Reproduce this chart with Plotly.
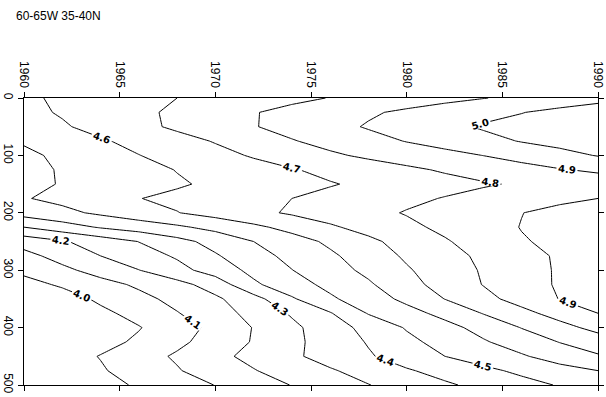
import plotly.graph_objects as go

years = [1960, 1962, 1964, 1966, 1968, 1970, 1972, 1974, 1976, 1978, 1980, 1982, 1984, 1986, 1988, 1990]
depths = [0, 25, 50, 75, 100, 125, 150, 175, 200, 225, 250, 275, 300, 325, 350, 375, 400, 425, 450, 475, 500]

d000 = [4.585, 4.614, 4.643, 4.672, 4.700, 4.726, 4.752, 4.778, 4.803, 4.826, 4.850, 4.875, 4.897, 4.920, 4.945, 4.970]
d025 = [4.574, 4.609, 4.645, 4.681, 4.717, 4.756, 4.795, 4.827, 4.857, 4.888, 4.917, 4.944, 4.970, 4.997, 5.025, 5.050]
d050 = [4.546, 4.589, 4.633, 4.675, 4.716, 4.755, 4.795, 4.833, 4.871, 4.908, 4.943, 4.977, 5.010, 5.030, 5.050, 5.060]
d075 = [4.510, 4.548, 4.589, 4.628, 4.667, 4.706, 4.751, 4.794, 4.831, 4.867, 4.904, 4.934, 4.971, 5.005, 5.030, 5.040]
d100 = [4.480, 4.519, 4.559, 4.598, 4.635, 4.671, 4.709, 4.747, 4.785, 4.817, 4.845, 4.873, 4.901, 4.935, 4.970, 5.005]
d125 = [4.475, 4.507, 4.539, 4.571, 4.603, 4.633, 4.664, 4.694, 4.723, 4.752, 4.782, 4.811, 4.838, 4.865, 4.894, 4.915]
d150 = [4.477, 4.505, 4.534, 4.562, 4.590, 4.616, 4.643, 4.668, 4.694, 4.718, 4.743, 4.767, 4.791, 4.810, 4.830, 4.850]
d175 = [4.494, 4.524, 4.560, 4.598, 4.620, 4.645, 4.672, 4.700, 4.725, 4.752, 4.779, 4.805, 4.828, 4.852, 4.877, 4.900]
d200 = [4.440, 4.476, 4.517, 4.557, 4.597, 4.636, 4.676, 4.712, 4.743, 4.774, 4.806, 4.837, 4.867, 4.898, 4.930, 4.940]
d225 = [4.300, 4.356, 4.409, 4.447, 4.484, 4.529, 4.579, 4.632, 4.687, 4.733, 4.778, 4.821, 4.862, 4.903, 4.930, 4.940]
d250 = [4.140, 4.190, 4.246, 4.302, 4.368, 4.434, 4.500, 4.558, 4.618, 4.679, 4.737, 4.791, 4.843, 4.893, 4.920, 4.940]
d275 = [4.070, 4.136, 4.200, 4.254, 4.312, 4.390, 4.463, 4.527, 4.584, 4.648, 4.714, 4.766, 4.819, 4.873, 4.910, 4.930]
d300 = [4.020, 4.077, 4.138, 4.198, 4.267, 4.344, 4.426, 4.498, 4.560, 4.622, 4.690, 4.750, 4.809, 4.864, 4.910, 4.930]
d325 = [3.970, 4.012, 4.065, 4.116, 4.168, 4.243, 4.383, 4.460, 4.525, 4.587, 4.666, 4.738, 4.803, 4.862, 4.910, 4.920]
d350 = [3.920, 3.960, 4.016, 4.072, 4.128, 4.183, 4.263, 4.388, 4.485, 4.553, 4.623, 4.702, 4.771, 4.837, 4.903, 4.920]
d375 = [3.920, 3.950, 3.980, 4.029, 4.095, 4.158, 4.230, 4.311, 4.393, 4.506, 4.565, 4.629, 4.704, 4.771, 4.838, 4.900]
d400 = [3.920, 3.940, 3.970, 3.995, 4.055, 4.127, 4.204, 4.278, 4.354, 4.431, 4.508, 4.568, 4.633, 4.703, 4.767, 4.830]
d425 = [3.920, 3.940, 3.970, 4.015, 4.078, 4.142, 4.207, 4.277, 4.343, 4.407, 4.475, 4.535, 4.590, 4.646, 4.703, 4.750]
d450 = [3.930, 3.960, 4.004, 4.059, 4.113, 4.175, 4.226, 4.283, 4.338, 4.390, 4.446, 4.500, 4.545, 4.589, 4.644, 4.690]
d475 = [3.930, 3.960, 3.990, 4.043, 4.092, 4.154, 4.195, 4.243, 4.290, 4.338, 4.390, 4.434, 4.477, 4.520, 4.563, 4.600]
d500 = [3.920, 3.950, 3.975, 4.009, 4.056, 4.102, 4.153, 4.203, 4.250, 4.297, 4.343, 4.386, 4.427, 4.467, 4.507, 4.550]

z = [d000, d025, d050, d075, d100, d125, d150, d175, d200, d225, d250,
     d275, d300, d325, d350, d375, d400, d425, d450, d475, d500]

year_ticks = [1960, 1965, 1970, 1975, 1980, 1985, 1990]
depth_ticks = [0, 100, 200, 300, 400, 500]
title_text = "60-65W 35-40N"

fig = go.Figure(go.Contour(
    x=years, y=depths, z=z,
    contours=dict(start=4.0, end=5.0, size=0.1, coloring="lines",
                  showlabels=True,
                  labelfont=dict(size=10, color="black", family="DejaVu Sans", weight="bold"),
                  labelformat=".1f"),
    colorscale=[[0, "black"], [1, "black"]],
    showscale=False,
    line=dict(width=1, color="black", smoothing=0),
    hoverinfo="skip",
))

W, H = 606, 397
L, R, T, B = 24, 8, 98, 12
pw, ph = W - L - R, H - T - B

fig.update_layout(
    width=W, height=H,
    margin=dict(l=L, r=R, t=T, b=B, autoexpand=False),
    paper_bgcolor="white", plot_bgcolor="white",
    font=dict(family="Liberation Sans", size=12, color="black"),
)
fig.add_annotation(text=title_text, xref="paper", yref="paper",
                   x=(14 - L) / pw, y=1 + (T - 16) / ph, xanchor="left", yanchor="middle",
                   showarrow=False, font=dict(size=12, family="Liberation Sans", color="black"))

fig.update_xaxes(range=[1960, 1990], side="top", tickvals=year_ticks, tickangle=90,
                 ticks="outside", ticklen=5, tickcolor="black", showline=True,
                 linecolor="black", linewidth=1, mirror="ticks", showgrid=False,
                 zeroline=False, automargin=False, tickfont=dict(size=12, color="black"))
fig.update_yaxes(range=[500, 0], tickvals=depth_ticks, tickangle=90,
                 ticks="outside", ticklen=5, tickcolor="black", showline=True,
                 linecolor="black", linewidth=1, mirror="ticks", showgrid=False,
                 zeroline=False, automargin=False, tickfont=dict(size=12, color="black"))

fig.write_html("out.html", config={"displayModeBar": False},
               post_script="document.body.style.margin='0px';document.body.style.padding='0px';")
